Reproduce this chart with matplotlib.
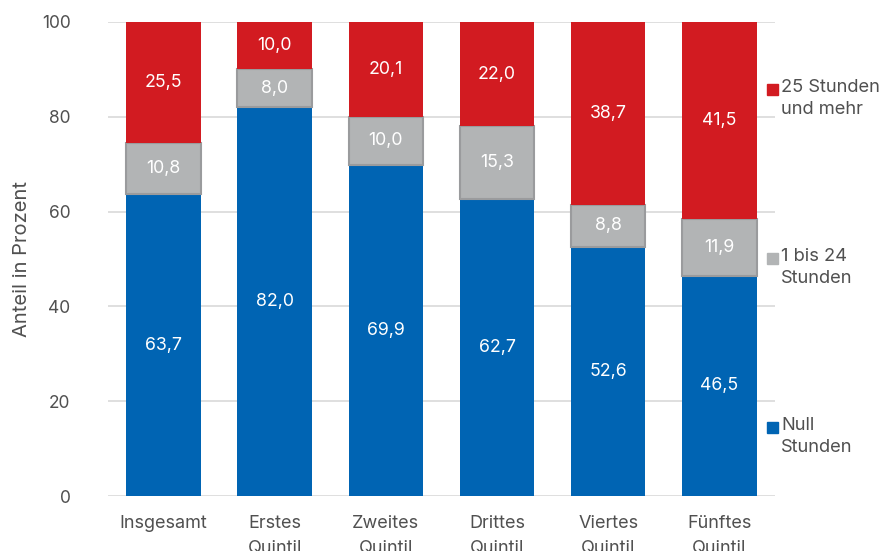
import matplotlib
matplotlib.use("Agg")
import matplotlib.pyplot as plt
import numpy as np

categories = ["Insgesamt", "Erstes\nQuintil", "Zweites\nQuintil", "Drittes\nQuintil", "Viertes\nQuintil", "Fünftes\nQuintil"]
null_stunden = [63.7, 82.0, 69.9, 62.7, 52.6, 46.5]
bis24_stunden = [10.8, 8.0, 10.0, 15.3, 8.8, 11.9]
ab25_stunden = [25.5, 10.0, 20.1, 22.0, 38.7, 41.5]
series_labels = ["Null\nStunden", "1 bis 24\nStunden", "25 Stunden\nund mehr"]
yticks = [0, 20, 40, 60, 80, 100]

plt.rcParams['font.family'] = ['Inter', 'DejaVu Sans']

blue = "#0064B3"
gray = "#B2B4B5"
red = "#D21B21"
textc = "#505050"

fig = plt.figure(figsize=(8.8, 5.51), dpi=100)
ax = fig.add_axes([0.1227, 0.0998, 0.758, 0.8603])

x = np.arange(len(categories))
w = 0.67
ax.bar(x, null_stunden, w, color=blue, zorder=2)
ax.bar(x, bis24_stunden, w, bottom=null_stunden, color=gray, edgecolor="#9A9B9D", linewidth=1.5, zorder=2)
bottom3 = np.array(null_stunden) + np.array(bis24_stunden)
ax.bar(x, ab25_stunden, w, bottom=bottom3, color=red, zorder=2)

def fmt(v):
    return f"{v:.1f}".replace(".", ",")

vfs = 12.8
for i in range(len(categories)):
    ax.text(x[i], null_stunden[i] / 2, fmt(null_stunden[i]), ha="center", va="center", color="white", fontsize=vfs, zorder=3)
    ax.text(x[i], null_stunden[i] + bis24_stunden[i] / 2, fmt(bis24_stunden[i]), ha="center", va="center", color="white", fontsize=vfs, zorder=3)
    ax.text(x[i], bottom3[i] + ab25_stunden[i] / 2, fmt(ab25_stunden[i]), ha="center", va="center", color="white", fontsize=vfs, zorder=3)

ax.set_xlim(-0.5, 5.5)
ax.set_ylim(0, 100)
ax.set_yticks(yticks)
ax.set_yticklabels([str(t) for t in yticks], color=textc, fontsize=12.5)
ax.set_xticks(x)
ax.set_xticklabels(categories, color=textc, fontsize=13, linespacing=1.55)
ax.tick_params(axis="y", length=0, pad=27)
ax.tick_params(axis="x", length=0, pad=14)
ax.yaxis.grid(True, color="#D9D9D9", linewidth=1.2, zorder=0)
ax.set_axisbelow(True)
for s in ax.spines.values():
    s.set_visible(False)
ax.set_ylabel("Anteil in Prozent", color=textc, fontsize=14.5, labelpad=0)
ax.yaxis.set_label_coords(-0.116, 0.5)

for col, lab, ypix in [(red, series_labels[2], 89), (gray, series_labels[1], 258), (blue, series_labels[0], 427)]:
    fy = 1 - ypix / 551
    fig.patches.append(matplotlib.patches.Rectangle((767 / 880, fy - 5.5 / 551), 11 / 880, 11 / 551,
                                                     transform=fig.transFigure, color=col, figure=fig))
    fig.text(781 / 880, fy + 10 / 551, lab, ha="left", va="top", color=textc, fontsize=13.2, linespacing=1.4)

fig.savefig("out.png", dpi=100)
